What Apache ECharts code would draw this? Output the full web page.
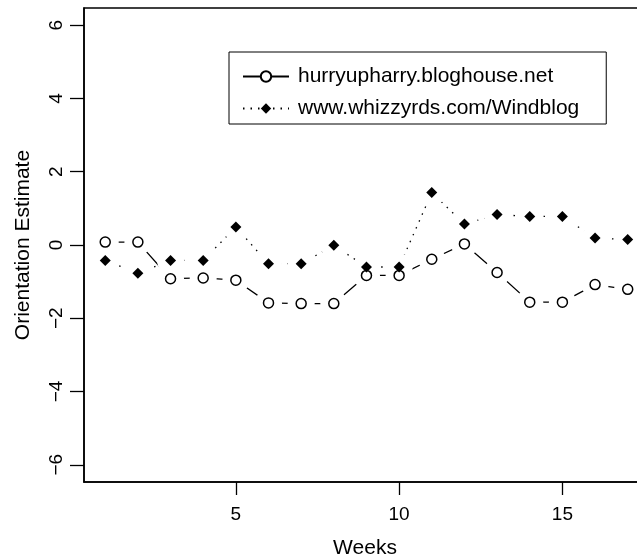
<!DOCTYPE html>
<html>
<head>
<meta charset="utf-8">
<script src="https://cdn.jsdelivr.net/npm/echarts@6/dist/echarts.min.js"></script>
<style>
    html, body { margin: 0; padding: 0; background: #fff; }
    #chart { width: 637px; height: 556px; }
</style>
</head>
<body>
<div id="chart"></div>
<script>
    // data
    var weeks = [1, 2, 3, 4, 5, 6, 7, 8, 9, 10, 11, 12, 13, 14, 15, 16, 17];
    var hurryValues = [0.08, 0.08, -0.92, -0.90, -0.96, -1.58, -1.60, -1.60, -0.83, -0.83, -0.39, 0.03, -0.75, -1.56, -1.56, -1.08, -1.21];
    var whizzyValues = [-0.42, -0.77, -0.42, -0.42, 0.49, -0.51, -0.51, -0.01, -0.60, -0.60, 1.43, 0.57, 0.83, 0.78, 0.78, 0.19, 0.15];
    var seriesNames = ['hurryupharry.bloghouse.net', 'www.whizzyrds.com/Windblog'];
    var xTicks = [5, 10, 15];
    var yTicks = [-6, -4, -2, 0, 2, 4, 6];

    var font = 'Liberation Sans, Arial, Helvetica, sans-serif';

    function pairs(vals) {
        return weeks.map(function (w, i) { return [w, vals[i]]; });
    }

    var chart = echarts.init(document.getElementById('chart'), null, { renderer: 'canvas' });

    chart.setOption({
        animation: false,
        backgroundColor: '#fff',
        textStyle: { fontFamily: font, color: '#000' },
        grid: {
            left: 84,
            top: 8,
            bottom: 74,
            right: -9,          // right edge of the box is cut off in the original
            outerBoundsMode: 'none',
            containLabel: false,
            show: true,
            borderColor: '#000',
            borderWidth: 1.5
        },
        legend: {
            data: seriesNames,
            orient: 'vertical',
            left: 229,
            top: 52,
            padding: [14, 27, 5, 13],
            itemGap: 11,
            itemWidth: 46,
            itemHeight: 13,
            borderColor: '#000',
            borderWidth: 1,
            textStyle: { fontFamily: font, fontSize: 21, color: '#000', padding: [0, 0, 0, 4] }
        },
        xAxis: {
            type: 'value',
            min: 0.35,
            max: 17.56,
            name: 'Weeks',
            nameLocation: 'middle',
            nameGap: 56,
            nameTextStyle: { fontSize: 21, color: '#000' },
            axisLine: { show: true, onZero: false, lineStyle: { color: '#000', width: 1.5 } },
            axisTick: { show: true, length: 13, customValues: xTicks, lineStyle: { color: '#000', width: 1.3 } },
            axisLabel: { customValues: xTicks, fontSize: 19, color: '#000', margin: 23 },
            splitLine: { show: false }
        },
        yAxis: {
            type: 'value',
            min: -6.47,
            max: 6.47,
            name: 'Orientation Estimate',
            nameLocation: 'middle',
            nameGap: 50,
            nameTextStyle: { fontSize: 21, color: '#000' },
            axisLine: { show: true, onZero: false, lineStyle: { color: '#000', width: 1.5 } },
            axisTick: { show: true, length: 14, customValues: yTicks, lineStyle: { color: '#000', width: 1.3 } },
            axisLabel: {
                customValues: yTicks,
                rotate: 90,
                fontSize: 19,
                color: '#000',
                margin: 18,
                formatter: function (v) { return String(v).replace('-', '\u2212'); }
            },
            splitLine: { show: false }
        },
        series: [
            {
                name: seriesNames[0],
                type: 'line',
                data: pairs(hurryValues),
                showSymbol: false,
                symbol: 'circle',
                symbolSize: 10,
                lineStyle: { color: '#000', width: 1.3 },
                itemStyle: { color: '#fff', borderColor: '#000', borderWidth: 1.5 },
                z: 1,
                silent: true
            },
            {
                // white gap round each point, like R's type = "b"
                name: 'gapA',
                type: 'scatter',
                data: pairs(hurryValues),
                symbol: 'circle',
                symbolSize: 27,
                itemStyle: { color: '#fff', opacity: 1 },
                z: 2,
                silent: true
            },
            {
                name: seriesNames[1],
                type: 'line',
                data: pairs(whizzyValues),
                showSymbol: false,
                symbol: 'diamond',
                symbolSize: 11,
                lineStyle: { color: '#000', width: 1.3, type: [1.5, 6] },
                itemStyle: { color: '#000' },
                z: 3,
                silent: true
            },
            {
                name: 'gapB',
                type: 'scatter',
                data: pairs(whizzyValues),
                symbol: 'circle',
                symbolSize: 27,
                itemStyle: { color: '#fff', opacity: 1 },
                z: 4,
                silent: true
            },
            {
                name: 'pointsA',
                type: 'scatter',
                data: pairs(hurryValues),
                symbol: 'circle',
                symbolSize: 10,
                itemStyle: { color: '#fff', borderColor: '#000', borderWidth: 1.5, opacity: 1 },
                z: 5,
                silent: true
            },
            {
                name: 'pointsB',
                type: 'scatter',
                data: pairs(whizzyValues),
                symbol: 'diamond',
                symbolSize: 11,
                itemStyle: { color: '#000', opacity: 1 },
                z: 6,
                silent: true
            }
        ]
    });
</script>
</body>
</html>
